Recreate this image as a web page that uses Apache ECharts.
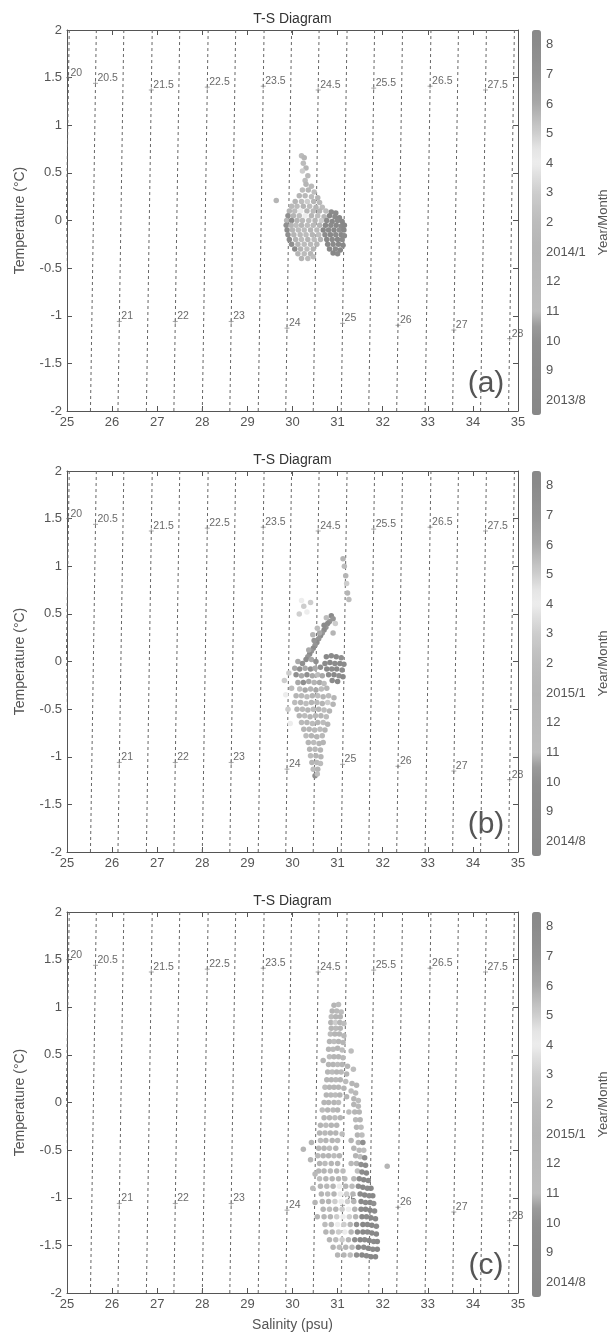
<!DOCTYPE html>
<html><head><meta charset="utf-8">
<script src="https://cdn.jsdelivr.net/npm/echarts@6/dist/echarts.min.js"></script>
<style>html,body{margin:0;padding:0;background:#fff}#c{width:612px;height:1338px}</style>
</head><body><div id="c"></div>
<script>
// ---------------- DATA ----------------
const panelNames = ['(a)', '(b)', '(c)'];
const monthLabelsA = ['2013/8','9','10','11','12','2014/1','2','3','4','5','6','7','8'];
const monthLabelsBC = ['2014/8','9','10','11','12','2015/1','2','3','4','5','6','7','8'];
const sigmaLevels = [20,20.5,21,21.5,22,22.5,23,23.5,24,24.5,25,25.5,26,26.5,27,27.5,28];
const sigmaSalBottom = [24.92,25.52,26.13,26.76,27.37,28.0,28.61,29.24,29.85,30.46,31.08,31.69,32.31,32.94,33.55,34.17,34.79];
const sigmaSalTop = [25.05,25.65,26.26,26.89,27.5,28.13,28.74,29.37,29.98,30.59,31.21,31.82,32.44,33.07,33.68,34.3,34.92];
const sigmaLabelT = [1.5,1.44,-1.06,1.37,-1.06,1.4,-1.06,1.41,-1.13,1.37,-1.08,1.39,-1.1,1.41,-1.15,1.37,-1.24];

// [salinity, temperature, month index]
const tsA = [
[30.20,0.68,6],[30.26,0.66,5],[30.24,0.6,6],[30.3,0.55,5],[30.22,0.52,7],[30.34,0.47,4],[30.28,0.42,6],[29.64,0.21,5],
[30.3,0.38,5],[30.42,0.36,4],
[30.22,0.32,6],[30.35,0.32,5],[30.48,0.3,3],
[30.15,0.26,5],[30.28,0.26,4],[30.42,0.25,6],[30.56,0.24,5],
[30.06,0.2,5],[30.2,0.2,3],[30.33,0.2,7],[30.47,0.2,5],[30.6,0.19,4],
[29.98,0.15,4],[30.1,0.15,6],[30.24,0.15,5],[30.38,0.15,3],[30.52,0.14,5],[30.66,0.14,6],
[29.93,0.1,5],[30.05,0.1,3],[30.18,0.1,8],[30.32,0.1,5],[30.46,0.1,4],[30.6,0.1,5],[30.74,0.1,6],[30.86,0.09,1],[30.96,0.08,12],
[29.9,0.05,2],[30.02,0.05,5],[30.15,0.05,6],[30.28,0.05,8],[30.42,0.05,5],[30.56,0.05,3],[30.7,0.04,5],[30.82,0.05,0],[30.94,0.04,1],[31.04,0.03,0],
[29.87,0.0,5],[29.98,0.0,1],[30.1,0.0,5],[30.22,0.0,4],[30.36,0.0,6],[30.5,0.0,5],[30.64,0.0,7],[30.76,0.0,1],[30.88,-0.01,0],[31.0,0.0,12],[31.1,-0.01,0],
[29.86,-0.05,2],[29.97,-0.05,5],[30.08,-0.05,3],[30.2,-0.05,5],[30.33,-0.05,6],[30.46,-0.05,4],[30.6,-0.05,5],[30.73,-0.05,0],[30.85,-0.05,1],[30.97,-0.05,0],[31.08,-0.06,12],[31.15,-0.05,0],
[29.88,-0.1,1],[30.0,-0.1,5],[30.13,-0.1,6],[30.26,-0.1,3],[30.4,-0.1,5],[30.54,-0.1,4],[30.68,-0.1,0],[30.8,-0.1,1],[30.92,-0.1,0],[31.04,-0.1,2],[31.14,-0.1,0],
[29.9,-0.15,2],[30.03,-0.15,5],[30.17,-0.15,4],[30.3,-0.15,6],[30.44,-0.15,5],[30.58,-0.15,3],[30.72,-0.15,1],[30.84,-0.15,0],[30.96,-0.15,12],[31.08,-0.15,0],[31.15,-0.16,1],
[29.93,-0.2,1],[30.07,-0.2,5],[30.2,-0.2,3],[30.34,-0.2,5],[30.48,-0.2,6],[30.62,-0.2,5],[30.76,-0.2,0],[30.88,-0.2,1],[31.0,-0.2,0],[31.1,-0.2,12],
[29.98,-0.25,2],[30.12,-0.25,5],[30.26,-0.25,6],[30.4,-0.25,4],[30.54,-0.25,5],[30.78,-0.25,0],[30.9,-0.25,1],[31.02,-0.25,0],[31.12,-0.26,0],
[30.05,-0.3,1],[30.18,-0.3,5],[30.32,-0.3,3],[30.46,-0.3,5],[30.82,-0.3,0],[30.95,-0.3,1],[31.06,-0.31,0],
[30.12,-0.35,5],[30.26,-0.35,6],[30.4,-0.35,5],[30.9,-0.34,0],[31.0,-0.35,1],
[30.2,-0.4,5],[30.34,-0.4,4],[30.46,-0.38,6]
];

const tsB = [
[31.12,1.08,5],[31.15,1.0,6],[31.18,0.9,5],[31.2,0.82,7],[31.22,0.72,5],[31.25,0.65,6],
[30.2,0.64,8],[30.25,0.58,7],[30.15,0.5,9],[30.32,0.52,8],[30.4,0.62,7],
[30.86,0.48,12],[30.82,0.42,11],[30.78,0.4,12],[30.74,0.36,11],[30.7,0.33,12],[30.66,0.3,11],[30.62,0.27,12],[30.58,0.24,11],[30.54,0.2,12],[30.5,0.17,11],[30.46,0.14,12],[30.42,0.11,11],[30.38,0.08,12],[30.34,0.05,11],[30.3,0.02,12],[30.9,0.45,11],[30.7,0.38,12],[30.6,0.3,10],[30.48,0.22,11],[30.36,0.12,10],
[30.75,0.46,6],[30.95,0.4,7],[30.9,0.3,5],[30.55,0.35,6],[30.45,0.28,5],
[30.75,0.05,0],[30.86,0.06,1],[30.97,0.05,0],[31.08,0.04,2],[30.72,-0.02,1],[30.83,-0.01,0],[30.94,-0.02,1],[31.05,-0.02,0],[31.14,-0.03,1],[30.76,-0.08,0],[30.87,-0.08,12],[30.98,-0.08,0],[31.1,-0.09,1],[30.8,-0.14,1],[30.92,-0.14,0],[31.03,-0.15,2],[31.12,-0.16,0],[30.88,-0.2,1],[31.0,-0.21,0],
[30.12,0.0,10],[30.22,-0.02,2],[30.42,0.02,10],[30.52,0.0,2],[30.05,-0.07,10],[30.16,-0.08,2],[30.28,-0.07,10],[30.4,-0.08,2],[30.5,-0.07,10],[30.62,-0.06,2],[30.08,-0.14,2],[30.2,-0.15,10],[30.32,-0.14,2],[30.44,-0.15,10],[30.56,-0.14,3],[30.66,-0.15,10],[30.12,-0.22,10],[30.24,-0.22,2],[30.36,-0.21,10],[30.48,-0.22,5],[30.6,-0.22,10],[30.7,-0.23,3],[30.16,-0.29,3],[30.28,-0.3,10],[30.4,-0.29,5],[30.52,-0.3,10],[30.64,-0.29,6],[30.76,-0.28,5],
[30.08,-0.36,5],[30.2,-0.36,4],[30.32,-0.37,6],[30.44,-0.36,5],[30.56,-0.36,3],[30.68,-0.37,5],[30.8,-0.36,6],[30.92,-0.38,5],
[30.05,-0.43,6],[30.18,-0.43,5],[30.3,-0.44,3],[30.42,-0.43,5],[30.54,-0.43,4],[30.66,-0.44,5],[30.78,-0.43,7],[30.9,-0.45,5],
[30.1,-0.5,5],[30.22,-0.5,4],[30.34,-0.51,5],[30.46,-0.5,6],[30.58,-0.5,5],[30.7,-0.51,3],[30.82,-0.52,5],
[30.15,-0.57,5],[30.27,-0.57,6],[30.39,-0.58,5],[30.51,-0.57,4],[30.63,-0.57,5],[30.75,-0.58,6],
[30.2,-0.64,4],[30.32,-0.64,5],[30.44,-0.65,6],[30.56,-0.64,5],[30.68,-0.64,3],[30.78,-0.66,5],
[30.25,-0.71,5],[30.37,-0.71,5],[30.49,-0.72,4],[30.61,-0.71,6],[30.72,-0.72,5],
[30.3,-0.78,6],[30.42,-0.78,5],[30.54,-0.79,5],[30.66,-0.78,4],
[30.35,-0.85,5],[30.47,-0.85,6],[30.59,-0.86,5],[30.68,-0.85,5],
[30.38,-0.92,5],[30.5,-0.92,4],[30.62,-0.93,5],
[30.4,-0.99,6],[30.52,-0.99,5],[30.63,-1.0,5],
[30.43,-1.06,5],[30.54,-1.06,4],[30.62,-1.07,6],
[30.46,-1.13,3],[30.56,-1.13,5],
[30.5,-1.2,2],[30.55,-1.18,3],
[29.82,-0.2,7],[29.85,-0.35,8],[29.9,-0.5,7],[29.95,-0.65,8],[29.98,-0.28,6],[29.92,-0.12,7]
];

const tsC = [
[30.92,1.02,5],[31.02,1.03,6],
[30.88,0.96,5],[30.98,0.96,4],[31.08,0.95,6],
[30.86,0.9,6],[30.96,0.9,5],[31.06,0.9,5],
[30.85,0.84,5],[30.95,0.84,7],[31.05,0.84,5],[31.14,0.83,6],
[30.86,0.78,5],[30.96,0.78,4],[31.06,0.78,5],
[30.84,0.72,6],[30.94,0.72,5],[31.04,0.72,5],[31.14,0.7,4],
[30.82,0.64,5],[30.92,0.64,6],[31.02,0.64,5],[31.12,0.63,5],
[30.8,0.56,5],[30.9,0.56,4],[31.0,0.57,5],[31.1,0.55,6],[31.3,0.54,3],
[30.82,0.48,6],[30.92,0.48,5],[31.02,0.48,5],[31.12,0.47,4],[30.68,0.44,5],
[30.8,0.4,5],[30.9,0.4,5],[31.0,0.4,6],[31.1,0.4,5],[31.22,0.38,5],[31.35,0.35,3],
[30.78,0.32,5],[30.88,0.32,6],[30.98,0.32,5],[31.08,0.32,4],[31.2,0.3,5],
[30.76,0.24,5],[30.86,0.24,5],[30.96,0.24,4],[31.06,0.24,5],[31.18,0.22,6],[31.32,0.2,5],[31.42,0.18,5],
[30.72,0.16,6],[30.82,0.16,5],[30.92,0.16,5],[31.02,0.16,5],[31.14,0.15,5],[31.3,0.12,6],[31.4,0.1,4],
[30.75,0.08,5],[30.85,0.08,4],[30.95,0.08,6],[31.05,0.08,5],[31.2,0.06,5],[31.36,0.04,5],[31.46,0.02,6],
[30.7,0.0,5],[30.8,0.0,5],[30.92,0.0,5],[31.02,0.0,6],[31.36,-0.02,5],[31.46,-0.04,4],
[30.66,-0.08,6],[30.78,-0.08,5],[30.9,-0.08,4],[31.0,-0.08,5],[31.38,-0.1,5],[31.48,-0.1,5],[31.25,-0.1,6],
[30.7,-0.16,5],[30.82,-0.16,5],[30.94,-0.16,6],[31.06,-0.16,5],[31.4,-0.18,4],[31.5,-0.18,5],
[30.62,-0.24,5],[30.74,-0.24,6],[30.86,-0.24,5],[30.98,-0.24,5],[31.42,-0.26,5],[31.52,-0.26,6],
[30.6,-0.32,5],[30.72,-0.32,4],[30.84,-0.32,5],[30.96,-0.32,5],[31.1,-0.33,6],[31.44,-0.34,5],[31.54,-0.34,3],
[30.62,-0.4,6],[30.74,-0.4,5],[30.88,-0.4,5],[31.0,-0.4,4],[31.3,-0.4,5],[31.46,-0.42,5],[31.56,-0.42,2],
[30.58,-0.48,5],[30.7,-0.48,5],[30.82,-0.48,6],[30.96,-0.48,5],[31.36,-0.48,5],[31.48,-0.5,4],[31.58,-0.5,3],[30.24,-0.49,5],
[30.56,-0.56,4],[30.68,-0.56,5],[30.8,-0.56,5],[30.92,-0.56,6],[31.04,-0.56,5],[31.4,-0.56,5],[31.5,-0.57,3],[31.6,-0.58,2],
[30.6,-0.64,5],[30.72,-0.64,6],[30.86,-0.64,5],[31.0,-0.64,5],[31.3,-0.64,4],[31.42,-0.64,5],[31.52,-0.65,2],[31.62,-0.66,1],[32.1,-0.67,5],
[30.58,-0.72,5],[30.7,-0.72,5],[30.84,-0.72,4],[30.98,-0.72,5],[31.12,-0.72,6],[31.44,-0.72,3],[31.54,-0.73,1],[31.64,-0.74,0],
[30.6,-0.8,6],[30.74,-0.8,5],[30.88,-0.8,5],[31.02,-0.8,5],[31.16,-0.8,4],[31.36,-0.8,5],[31.48,-0.8,1],[31.58,-0.81,0],[31.68,-0.82,1],
[30.62,-0.88,5],[30.76,-0.88,4],[30.9,-0.88,5],[31.04,-0.88,8],[31.18,-0.88,5],[31.32,-0.88,6],[31.46,-0.88,2],[31.56,-0.89,0],[31.66,-0.9,1],[31.74,-0.9,0],
[30.64,-0.96,5],[30.78,-0.96,6],[30.92,-0.96,5],[31.06,-0.96,8],[31.2,-0.96,7],[31.34,-0.96,5],[31.5,-0.96,1],[31.6,-0.97,0],[31.7,-0.98,1],[31.78,-0.98,0],
[30.66,-1.04,5],[30.8,-1.04,5],[30.94,-1.04,7],[31.08,-1.04,8],[31.22,-1.04,7],[31.36,-1.04,5],[31.52,-1.04,0],[31.62,-1.05,1],[31.72,-1.05,0],[31.8,-1.06,2],
[30.68,-1.12,5],[30.82,-1.12,6],[30.96,-1.12,5],[31.1,-1.12,7],[31.24,-1.12,8],[31.38,-1.12,5],[31.52,-1.12,1],[31.62,-1.12,0],[31.72,-1.13,0],[31.82,-1.14,1],
[30.7,-1.2,5],[30.84,-1.2,5],[30.98,-1.2,7],[31.12,-1.2,8],[31.26,-1.2,7],[31.4,-1.2,5],[31.54,-1.2,0],[31.64,-1.2,1],[31.74,-1.21,0],[31.84,-1.22,0],
[30.72,-1.28,6],[30.86,-1.28,5],[31.0,-1.28,8],[31.14,-1.28,7],[31.28,-1.28,5],[31.42,-1.28,2],[31.56,-1.28,0],[31.66,-1.28,1],[31.76,-1.29,0],[31.86,-1.3,1],
[30.74,-1.36,5],[30.88,-1.36,5],[31.02,-1.36,7],[31.16,-1.36,8],[31.3,-1.36,5],[31.44,-1.36,1],[31.56,-1.36,0],[31.66,-1.36,1],[31.76,-1.37,0],[31.86,-1.38,0],
[30.82,-1.44,5],[30.96,-1.44,6],[31.1,-1.44,7],[31.24,-1.44,5],[31.38,-1.44,2],[31.5,-1.44,0],[31.6,-1.44,1],[31.7,-1.45,0],[31.8,-1.46,1],[31.88,-1.46,0],
[30.9,-1.52,5],[31.04,-1.52,6],[31.18,-1.52,5],[31.32,-1.52,4],[31.46,-1.52,0],[31.58,-1.52,1],[31.68,-1.53,0],[31.78,-1.54,1],[31.88,-1.54,0],
[31.0,-1.6,5],[31.14,-1.6,5],[31.28,-1.6,6],[31.42,-1.6,2],[31.54,-1.6,0],[31.64,-1.61,1],[31.74,-1.62,0],[31.84,-1.62,0],
[30.4,-0.6,5],[30.45,-0.9,6],[30.5,-1.05,5],[30.55,-1.2,5],[30.5,-0.75,4],[30.42,-0.42,5]
];

// ---------------- STYLE / LAYOUT ----------------
const FONT = 'Liberation Sans, Arial, Helvetica, sans-serif';
const AX = '#555';
const panelTops = [30, 471, 912];
const plotH = 381, plotLeft = 67, plotW = 451;
const cbLeft = 532, cbW = 9, cbH = 385;
const cmap = ['#878787','#888888','#8a8a8a','#8b8b8b','#8d8d8d','#8f8f8f','#9a9a9a','#bdbdbd','#bbbbbb','#b9b9b9','#b7b7b7','#b5b5b5','#b8b8b8','#bcbcbc','#c4c4c4','#cdcdcd','#dcdcdc','#ededed','#e4e4e4','#cfcfcf','#bcbcbc','#a9a9a9','#9e9e9e','#959595','#909090','#8b8b8b','#888888'];

const scatterSets = [tsA, tsB, tsC];
const monthSets = [monthLabelsA, monthLabelsBC, monthLabelsBC];

const grids = [], xAxes = [], yAxes = [], series = [], visualMaps = [], graphics = [];
const plusPath = 'path://M0,5L10,5M5,0L5,10';

for (let p = 0; p < 3; p++) {
  const top = panelTops[p];
  grids.push({left: plotLeft, top: top, width: plotW, height: plotH});
  grids.push({left: cbLeft, top: top, width: cbW, height: cbH});
  const g = p * 2;
  const tickStyle = {show: true, inside: true, length: 5, lineStyle: {color: AX, width: 1}};
  const lineStyle = {show: true, onZero: false, lineStyle: {color: AX, width: 1}};
  xAxes.push({gridIndex: g, type: 'value', min: 25, max: 35, interval: 1, position: 'bottom',
    axisLine: lineStyle, axisTick: tickStyle, splitLine: {show: false},
    axisLabel: {color: AX, fontSize: 13, margin: 5, fontFamily: FONT},
    name: p === 2 ? 'Salinity (psu)' : '', nameLocation: 'middle', nameGap: 25,
    nameTextStyle: {color: AX, fontSize: 14, fontFamily: FONT}});
  xAxes.push({gridIndex: g, type: 'value', min: 25, max: 35, interval: 1, position: 'top',
    axisLine: lineStyle, axisTick: tickStyle, splitLine: {show: false}, axisLabel: {show: false}});
  xAxes.push({gridIndex: g + 1, type: 'value', min: 0, max: 1, show: false});
  yAxes.push({gridIndex: g, type: 'value', min: -2, max: 2, interval: 0.5, position: 'left',
    axisLine: lineStyle, axisTick: tickStyle, splitLine: {show: false},
    axisLabel: {color: AX, fontSize: 13, margin: 5, fontFamily: FONT},
    name: 'Temperature (°C)', nameLocation: 'middle', nameGap: 40,
    nameTextStyle: {color: AX, fontSize: 14, fontFamily: FONT}});
  yAxes.push({gridIndex: g, type: 'value', min: -2, max: 2, interval: 0.5, position: 'right',
    axisLine: lineStyle, axisTick: tickStyle, splitLine: {show: false}, axisLabel: {show: false}});
  yAxes.push({gridIndex: g + 1, type: 'category', data: monthSets[p], position: 'right',
    axisLine: {show: false}, axisTick: {show: false}, splitLine: {show: false},
    axisLabel: {color: AX, fontSize: 13, margin: 5, fontFamily: FONT},
    name: 'Year/Month', nameLocation: 'middle', nameRotate: 90, nameGap: 56,
    nameTextStyle: {color: AX, fontSize: 13, fontFamily: FONT}});

  visualMaps.push({type: 'continuous', seriesIndex: p, dimension: 2, min: -0.5, max: 12.5,
    inRange: {color: cmap}, left: cbLeft, top: top, itemWidth: cbW, itemHeight: cbH,
    padding: 0, calculable: false, realtime: false, hoverLink: false, showLabel: false, text: null});

  graphics.push({type: 'text', x: plotLeft + plotW / 2, y: top - 11, silent: true,
    style: {text: 'T-S Diagram', fontSize: 14, fill: '#333', fontFamily: FONT,
      align: 'center', verticalAlign: 'middle', textAlign: 'center', textVerticalAlign: 'middle'}});
  graphics.push({type: 'text', x: 486, y: top + 354, silent: true,
    style: {text: panelNames[p], fontSize: 30, fill: '#555', fontFamily: FONT,
      align: 'center', verticalAlign: 'middle', textAlign: 'center', textVerticalAlign: 'middle'}});
}

for (let p = 0; p < 3; p++) {
  series.push({type: 'scatter', xAxisIndex: p * 3, yAxisIndex: p * 3, data: scatterSets[p],
    symbolSize: 5.5, z: 5, silent: true, itemStyle: {opacity: 1}});
}
for (let p = 0; p < 3; p++) {
  sigmaLevels.forEach((lev, i) => {
    series.push({type: 'line', xAxisIndex: p * 3, yAxisIndex: p * 3, silent: true, z: 2,
      data: [[sigmaSalBottom[i], -2], [sigmaSalTop[i], 2]], symbol: 'none', clip: true,
      lineStyle: {type: [3, 3], color: '#666', width: 1}});
  });
  series.push({type: 'scatter', xAxisIndex: p * 3, yAxisIndex: p * 3, silent: true, z: 3,
    symbol: plusPath, symbolSize: 5,
    itemStyle: {color: 'none', borderColor: '#777', borderWidth: 0.8},
    label: {show: true, position: 'right', distance: 0, offset: [-3, -5], formatter: '{b}',
      fontSize: 10.5, color: '#444', fontFamily: FONT},
    data: sigmaLevels.map((lev, i) => {
      const t = sigmaLabelT[i];
      const s = sigmaSalBottom[i] + (sigmaSalTop[i] - sigmaSalBottom[i]) * (t + 2) / 4;
      return {name: String(lev), value: [s, t]};
    })});
}

const chart = echarts.init(document.getElementById('c'));
chart.setOption({
  animation: false,
  backgroundColor: '#fff',
  grid: grids, xAxis: xAxes, yAxis: yAxes,
  visualMap: visualMaps, series: series, graphic: graphics
});
</script></body></html>
